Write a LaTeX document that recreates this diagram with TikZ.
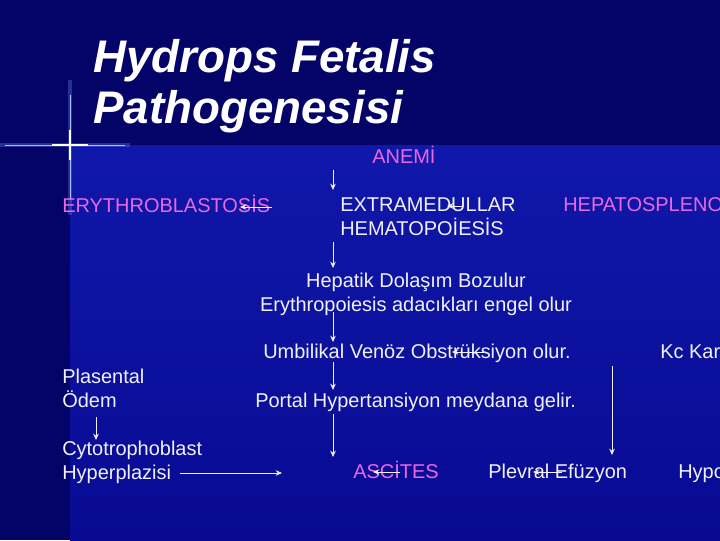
\documentclass[tikz,border=0pt]{standalone}
\usepackage{fontspec}
\setmainfont{Liberation Sans}
\usepackage{tikz}
\usetikzlibrary{arrows.meta}
\usepackage{xcolor}
\definecolor{bgdark}{RGB}{4,4,104}
\definecolor{bgtop}{RGB}{16,24,170}
\definecolor{bgbot}{RGB}{8,10,146}
\definecolor{pinktxt}{RGB}{232,104,226}
\definecolor{wtxt}{RGB}{240,240,246}
\definecolor{glow}{RGB}{110,150,255}

\tikzset{
  lbl/.style={inner sep=0pt, anchor=base west, text=wtxt, font=\fontsize{14.2}{17.5}\selectfont},
  pinklbl/.style={lbl, text=pinktxt},
  ttl/.style={inner sep=0pt, anchor=base west, text=white, font=\fontsize{32.5}{36}\selectfont\bfseries\itshape},
  arr/.style={->, wtxt, line width=0.6pt},
  >={Stealth[length=4.5pt,width=4pt]}
}

\begin{document}
\begin{tikzpicture}[x=0.025cm,y=-0.025cm]
\useasboundingbox (0,0) rectangle (720,540);
\clip (0,0) rectangle (720,540);
% background
\fill[bgdark] (0,0) rectangle (720,540);
\shade[top color=bgtop, bottom color=bgbot] (70,145) rectangle (720,540);
\fill[bgdark, opacity=0.2] (0,145) rectangle (70,540);
% cross ornament
\draw[glow, line width=2.5pt, opacity=0.3] (70,80) -- (70,215);
\draw[glow, line width=2.5pt, opacity=0.3] (0,145) -- (130,145);
\draw[glow!60!white, line width=0.7pt] (70,95) -- (70,200);
\draw[glow!60!white, line width=0.7pt] (5,145) -- (125,145);
\draw[white, line width=0.8pt] (70,130) -- (70,160);
\draw[white, line width=0.8pt] (52,145) -- (88,145);

% title
\node[ttl] (title1) at (93,72) {Hydrops Fetalis};
\node[ttl] (title2) at (93,123) {Pathogenesisi};

% top row
\node[pinklbl] (anemi) at (372,163) {ANEMİ};
\node[pinklbl] (erythro) at (62,212) {ERYTHROBLASTOSİS};
\node[lbl] (extra) at (340,211) {\begin{tabular}[t]{@{}l@{}}EXTRAMEDULLAR\\HEMATOPOİESİS\end{tabular}};
\node[pinklbl] (hepsplen) at (563,211) {HEPATOSPLENO};

% middle column
\node[lbl, anchor=base] (hepatik) at (416,287) {\begin{tabular}[t]{@{}c@{}}Hepatik Dolaşım Bozulur\\Erythropoiesis adacıkları engel olur\end{tabular}};
\node[lbl] (umbil) at (263,358) {Umbilikal Venöz Obstrüksiyon olur.};
\node[lbl] (portal) at (255,407) {Portal Hypertansiyon meydana gelir.};
\node[lbl] (kckar) at (660,358) {Kc Kar};

% left column
\node[lbl] (plasent) at (62,383) {\begin{tabular}[t]{@{}l@{}}Plasental\\Ödem\end{tabular}};
\node[lbl] (cyto) at (62,455) {\begin{tabular}[t]{@{}l@{}}Cytotrophoblast\\Hyperplazisi\end{tabular}};

% bottom row
\node[pinklbl] (ascites) at (353,478) {ASCİTES};
\node[lbl] (plevral) at (488,478) {Plevral Efüzyon};
\node[lbl] (hypo) at (678,478) {Hypo};

% arrow ends
\coordinate (s1) at (333,170);
\coordinate (e1) at (333,190);
\coordinate (s2) at (333,242);
\coordinate (e2) at (333,268);
\coordinate (s3) at (333,312);
\coordinate (e3) at (333,342);
\coordinate (s4) at (333,362);
\coordinate (e4) at (333,390);
\coordinate (s5) at (333,414);
\coordinate (e5) at (333,457);
\coordinate (s6) at (612,366);
\coordinate (e6) at (612,455);
\coordinate (s7) at (96,417);
\coordinate (e7) at (96,440);
\coordinate (s8) at (180,473);
\coordinate (e8) at (282,473);

% connectors
\draw[arr] (s1) -- (e1);
\draw[arr] (s2) -- (e2);
\draw[arr] (s3) -- (e3);
\draw[arr] (s4) -- (e4);
\draw[arr] (s5) -- (e5);
\draw[arr] (s6) -- (e6);
\draw[arr] (s7) -- (e7);
\draw[arr] (s8) -- (e8);
% short arrows over the labels
\draw[arr] (272,207) coordinate (o1) -- (240,207) coordinate (o2);
\draw[arr] (462,206) coordinate (o3) -- (447,206) coordinate (o4);
\draw[arr] (484,352) coordinate (o5) -- (452,352) coordinate (o6);
\draw[arr] (400,472) coordinate (o7) -- (373,472) coordinate (o8);
\draw[arr] (562,472) coordinate (o9) -- (533,472) coordinate (o10);
\end{tikzpicture}
\end{document}
